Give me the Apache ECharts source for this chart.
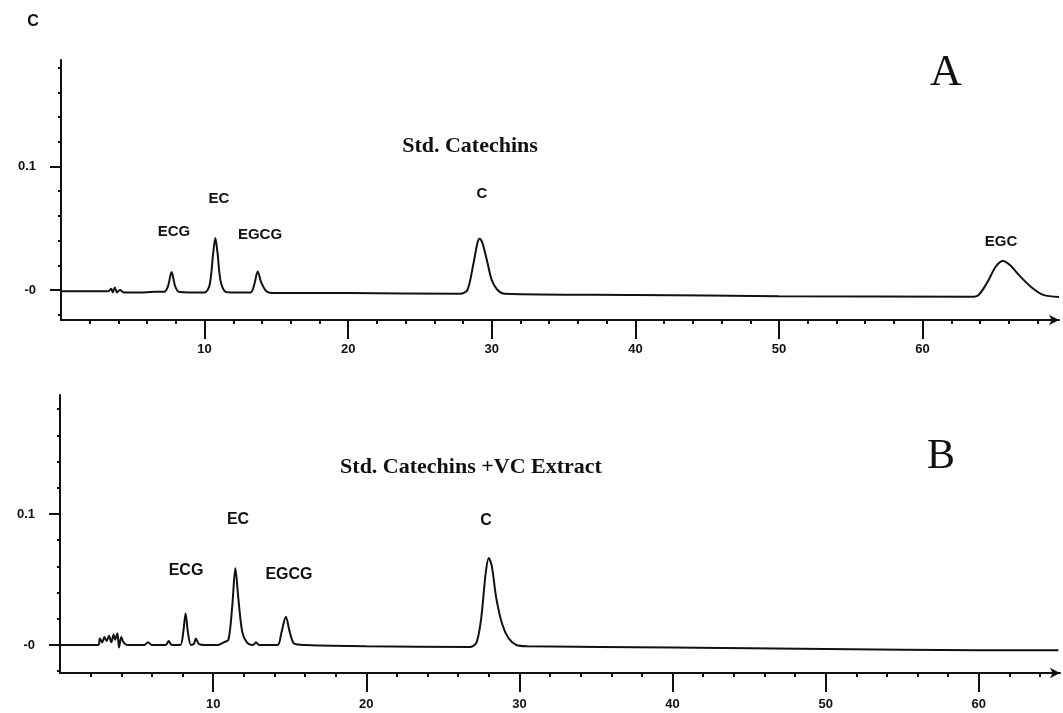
<!DOCTYPE html>
<html>
<head>
<meta charset="utf-8">
<script src="https://cdn.jsdelivr.net/npm/echarts@6/dist/echarts.min.js"></script>
<style>
  html, body { margin: 0; padding: 0; background: #fff; }
  #chart { width: 1063px; height: 713px; }
</style>
</head>
<body>
<div id="chart"></div>
<script>
// retention time (min) / absorbance
const traceA = [
  [0.0, -0.001], [3.3, -0.001], [3.5, 0.001], [3.6, -0.002], [3.75, 0.002], [3.9, -0.002],
  [4.1, 0.0], [4.4, -0.002], [5.5, -0.002], [6.5, -0.0015], [7.2, -0.0015], [7.45, 0.003],
  [7.7, 0.0145], [7.95, 0.003], [8.2, -0.0015], [9.0, -0.002], [10.0, -0.002], [10.35, 0.004],
  [10.6, 0.03], [10.75, 0.042], [10.9, 0.03], [11.1, 0.008], [11.4, -0.001], [11.8, -0.002],
  [13.2, -0.002], [13.45, 0.004], [13.7, 0.015], [13.95, 0.006], [14.3, -0.001], [14.8, -0.0025],
  [20.0, -0.0025], [27.8, -0.003], [28.3, 0.0], [28.7, 0.02], [29.0, 0.038], [29.15, 0.0415],
  [29.35, 0.038], [29.7, 0.022], [30.0, 0.008], [30.4, 0.0], [30.9, -0.003], [40.0, -0.004],
  [50.0, -0.005], [63.4, -0.0055], [63.9, -0.004], [64.5, 0.006], [65.1, 0.019], [65.6, 0.0235],
  [66.1, 0.02], [66.8, 0.011], [67.6, 0.002], [68.4, -0.004], [69.5, -0.0057]
];

const traceB = [
  [0.0, 0.0], [2.5, 0.0], [2.6, 0.005], [2.75, 0.002], [2.9, 0.006], [3.05, 0.003],
  [3.2, 0.007], [3.35, 0.002], [3.5, 0.008], [3.6, 0.004], [3.75, 0.009], [3.85, -0.002],
  [4.0, 0.006], [4.15, 0.002], [4.4, 0.0], [5.5, 0.0], [5.75, 0.002], [6.0, 0.0],
  [6.9, 0.0], [7.1, 0.003], [7.3, 0.0], [7.85, 0.0], [8.05, 0.01], [8.2, 0.024],
  [8.35, 0.01], [8.55, 0.0], [8.75, 0.001], [8.87, 0.005], [9.05, 0.001], [9.4, 0.0],
  [10.3, 0.0], [10.7, 0.002], [11.0, 0.004], [11.25, 0.03], [11.45, 0.0585], [11.65, 0.035],
  [11.9, 0.01], [12.2, 0.002], [12.6, 0.0], [12.8, 0.002], [13.0, 0.0], [14.2, 0.0],
  [14.45, 0.009], [14.75, 0.0216], [15.0, 0.01], [15.3, 0.001], [16.0, 0.0], [20.0, -0.001],
  [26.8, -0.0015], [27.2, 0.002], [27.5, 0.02], [27.8, 0.055], [28.0, 0.0664], [28.2, 0.06],
  [28.5, 0.035], [28.9, 0.015], [29.3, 0.005], [29.8, 0.0], [30.5, -0.001], [40.0, -0.002],
  [50.0, -0.003], [60.0, -0.004], [65.2, -0.004]
];

const majorX = [10, 20, 30, 40, 50, 60];
const minorXA = [2, 4, 6, 8, 12, 14, 16, 18, 22, 24, 26, 28, 32, 34, 36, 38, 42, 44, 46, 48, 52, 54, 56, 58, 62, 64, 66, 68];
const minorXB = [2, 4, 6, 8, 12, 14, 16, 18, 22, 24, 26, 28, 32, 34, 36, 38, 42, 44, 46, 48, 52, 54, 56, 58, 62, 64];
const majorY = [0, 0.1];
const minorY = [-0.02, 0.02, 0.04, 0.06, 0.08, 0.12, 0.14, 0.16, 0.18];

const ink = '#111';
const tickFont = { color: ink, fontSize: 13, fontWeight: 'bold', fontFamily: 'Liberation Sans, Arial' };

function mainX(grid, max, margin) {
  return {
    type: 'value', gridIndex: grid, min: 0, max: max,
    splitLine: { show: false },
    axisLine: { onZero: false, symbol: ['none', 'arrow'], symbolSize: [8, 10], lineStyle: { color: ink, width: 2 } },
    axisTick: { customValues: majorX, length: 19, lineStyle: { color: ink, width: 2 } },
    axisLabel: Object.assign({ customValues: majorX, margin: margin }, tickFont)
  };
}
function minorXAxis(grid, max, vals) {
  return {
    type: 'value', gridIndex: grid, min: 0, max: max, position: 'bottom',
    splitLine: { show: false },
    axisLine: { show: false, onZero: false },
    axisTick: { customValues: vals, length: 4, lineStyle: { color: ink, width: 2 } },
    axisLabel: { show: false }
  };
}
function mainY(grid, min, max) {
  return {
    type: 'value', gridIndex: grid, min: min, max: max,
    splitLine: { show: false },
    axisLine: { onZero: false, lineStyle: { color: ink, width: 2 } },
    axisTick: { customValues: majorY, length: 11, lineStyle: { color: ink, width: 2 } },
    axisLabel: Object.assign({ customValues: majorY, margin: 25, formatter: v => v === 0 ? '-0' : '0.1' }, tickFont)
  };
}
function minorYAxis(grid, min, max) {
  return {
    type: 'value', gridIndex: grid, min: min, max: max, position: 'left',
    splitLine: { show: false },
    axisLine: { show: false, onZero: false },
    axisTick: { customValues: minorY, length: 3, lineStyle: { color: ink, width: 2 } },
    axisLabel: { show: false }
  };
}

function txt(x, y, text, size, family, weight) {
  return {
    type: 'text', x: x, y: y,
    style: { text: text, fill: ink, fontSize: size, fontFamily: family, fontWeight: weight, align: 'center', verticalAlign: 'middle' }
  };
}
const sans = 'Liberation Sans, Arial';
const serif = 'Liberation Serif, Times New Roman';

const chart = echarts.init(document.getElementById('chart'));
chart.setOption({
  animation: false,
  backgroundColor: '#fff',
  grid: [
    { left: 61, top: 60, width: 998, height: 260 },
    { left: 60, top: 395, width: 1000, height: 278 }
  ],
  xAxis: [mainX(0, 69.5, 23), minorXAxis(0, 69.5, minorXA), mainX(1, 65.3, 25), minorXAxis(1, 65.3, minorXB)],
  yAxis: [mainY(0, -0.0243, 0.1862), minorYAxis(0, -0.0243, 0.1862), mainY(1, -0.0214, 0.1908), minorYAxis(1, -0.0214, 0.1908)],
  series: [
    { type: 'line', xAxisIndex: 0, yAxisIndex: 0, data: traceA, showSymbol: false, smooth: 0.3,
      lineStyle: { color: ink, width: 2 } },
    { type: 'line', xAxisIndex: 2, yAxisIndex: 2, data: traceB, showSymbol: false, smooth: 0.3,
      lineStyle: { color: ink, width: 2 } }
  ],
  graphic: [
    txt(33, 22, 'C', 16, sans, 'bold'),
    txt(946, 73, 'A', 44, serif, 'normal'),
    txt(941, 457, 'B', 42, serif, 'normal'),
    txt(470, 146, 'Std. Catechins', 22, serif, 'bold'),
    txt(471, 467, 'Std. Catechins +VC Extract', 22, serif, 'bold'),
    txt(174, 232, 'ECG', 15, sans, 'bold'),
    txt(219, 199, 'EC', 15, sans, 'bold'),
    txt(260, 235, 'EGCG', 15, sans, 'bold'),
    txt(482, 194, 'C', 15, sans, 'bold'),
    txt(1001, 242, 'EGC', 15, sans, 'bold'),
    txt(186, 571, 'ECG', 16, sans, 'bold'),
    txt(238, 520, 'EC', 16, sans, 'bold'),
    txt(289, 575, 'EGCG', 16, sans, 'bold'),
    txt(486, 521, 'C', 16, sans, 'bold')
  ]
});
</script>
</body>
</html>
